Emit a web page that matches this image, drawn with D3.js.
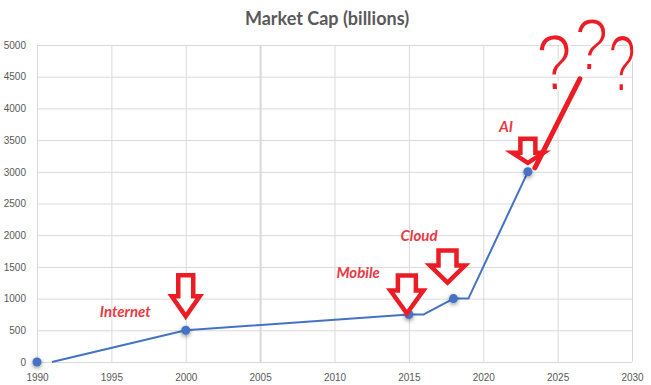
<!DOCTYPE html>
<html>
<head>
<meta charset="utf-8">
<script src="https://cdn.jsdelivr.net/npm/d3@7"></script>
<style>
  html, body { margin: 0; padding: 0; background: #fff; }
  svg { display: block; }
</style>
</head>
<body>
<svg id="chart" width="651" height="385"></svg>
<script>
// ---------- DATA ----------
const title = "Market Cap (billions)";
const xTicks = [1990, 1995, 2000, 2005, 2010, 2015, 2020, 2025, 2030];
const yTicks = [0, 500, 1000, 1500, 2000, 2500, 3000, 3500, 4000, 4500, 5000];
// trend line points
const lineYears  = [1991, 2000, 2015, 2016, 2018, 2019, 2023];
const lineValues = [0,    500,  750,  750,  1000, 1000, 3000];
// markers
const markerYears  = [1990, 2000, 2015, 2018, 2023];
const markerValues = [0,    500,  750,  1000, 3000];
// annotations
const milestoneLabels = ["Internet", "Mobile", "Cloud", "AI"];
const milestoneYears  = [2000, 2015, 2018, 2023];
const milestoneValues = [500, 750, 1000, 3000];
const questionMarks = ["?", "?", "?"];

// ---------- LAYOUT ----------
const svg = d3.select("#chart");
const pLeft = 37, pRight = 632, pTop = 45, pBottom = 362;
const x = d3.scaleLinear().domain([1990, 2030]).range([pLeft, pRight]);
const y = d3.scaleLinear().domain([0, 5000]).range([pBottom, pTop]);

const gridColor = "#d9d9d9";
const textColor = "#595959";
const blue = "#4472c4";
const arrowRed = "#ec1c24";
const labelRed = "#e83a46";

const defs = svg.append("defs");
const f = defs.append("filter").attr("id", "shadow")
  .attr("x", "-100%").attr("y", "-100%").attr("width", "300%").attr("height", "300%");
f.append("feDropShadow").attr("dx", 0).attr("dy", 1.5).attr("stdDeviation", 2)
  .attr("flood-color", "#000").attr("flood-opacity", 0.45);

// title
svg.append("text")
  .attr("x", 327).attr("y", 25)
  .attr("text-anchor", "middle")
  .attr("font-family", "Lato, 'Open Sans', sans-serif")
  .attr("font-weight", "bold")
  .attr("font-size", 18)
  .attr("fill", textColor)
  .text(title);

// y axis with horizontal gridlines
const yAxis = d3.axisLeft(y).tickValues(yTicks).tickSize(-(pRight - pLeft)).tickPadding(11)
  .tickFormat(d3.format("d"));
const gy = svg.append("g").attr("transform", `translate(${pLeft},0)`).call(yAxis);
gy.select(".domain").remove();
gy.selectAll(".tick line").attr("stroke", gridColor).attr("stroke-width", 1);
gy.selectAll(".tick text")
  .attr("fill", textColor)
  .attr("font-family", "'Liberation Sans', Arial, sans-serif")
  .attr("font-size", 10);

// x axis with vertical gridlines
const xAxis = d3.axisBottom(x).tickValues(xTicks).tickSize(-(pBottom - pTop)).tickPadding(12)
  .tickFormat(d3.format("d"));
const gx = svg.append("g").attr("transform", `translate(0,${pBottom})`).call(xAxis);
gx.select(".domain").remove();
gx.selectAll(".tick line").attr("stroke", gridColor)
  .attr("stroke-width", d => d === 2005 ? 2 : 1);
gx.selectAll(".tick text")
  .attr("fill", textColor)
  .attr("font-family", "'Liberation Sans', Arial, sans-serif")
  .attr("font-size", 10);

// line
const linePts = lineYears.map((yr, i) => [yr, lineValues[i]]);
svg.append("path")
  .datum(linePts)
  .attr("fill", "none")
  .attr("stroke", blue)
  .attr("stroke-width", 2)
  .attr("stroke-linejoin", "round")
  .attr("d", d3.line().x(d => x(d[0])).y(d => y(d[1])));

// markers
svg.append("g").selectAll("circle")
  .data(markerYears.map((yr, i) => [yr, markerValues[i]]))
  .join("circle")
  .attr("cx", d => x(d[0]))
  .attr("cy", d => y(d[1]))
  .attr("r", 4.5)
  .attr("fill", blue)
  .attr("filter", "url(#shadow)");

// arrows & labels (offsets relative to each milestone point)
const arrowGeom = [
  { dx: 0,  dy: -14, h: 41, head: 20, hw: 14,   sw: 7.5 },
  { dx: -2, dy: -1,  h: 38, head: 23, hw: 16.5, sw: 9 },
  { dx: -6, dy: -16, h: 32, head: 17, hw: 17.5, sw: 9 },
  { dx: 0,  dy: -9,  h: 24, head: 10, hw: 15.5, sw: 7.5 }
];
const labelOff = [
  { dx: -35, dy: -13 },
  { dx: -29, dy: -36 },
  { dx: -16, dy: -58 },
  { dx: -15, dy: -40 }
];

function arrowPath(tx, ty, g) {
  const topY = ty - g.h, headY = ty - g.head;
  return `M${tx - g.sw},${topY} L${tx + g.sw},${topY} L${tx + g.sw},${headY} L${tx + g.hw},${headY}` +
         ` L${tx},${ty} L${tx - g.hw},${headY} L${tx - g.sw},${headY} Z`;
}

const ann = svg.append("g");
milestoneLabels.forEach((lab, i) => {
  const px = x(milestoneYears[i]), py = y(milestoneValues[i]);
  const g = arrowGeom[i];
  ann.append("path")
    .attr("d", arrowPath(px + g.dx, py + g.dy, g))
    .attr("fill", "#fff")
    .attr("stroke", arrowRed)
    .attr("stroke-width", 4.5)
    .attr("stroke-linejoin", "miter");
  ann.append("text")
    .attr("x", px + labelOff[i].dx)
    .attr("y", py + labelOff[i].dy)
    .attr("text-anchor", "end")
    .attr("font-family", "Lato, 'Open Sans', sans-serif")
    .attr("font-style", "italic")
    .attr("font-weight", "bold")
    .attr("font-size", 15)
    .attr("fill", labelRed)
    .text(lab);
});

// hand-drawn stroke from AI arrow up to the question marks
const aiX = x(2023), aiY = y(3000);
ann.append("path")
  .attr("d", `M${aiX + 7},${aiY - 4} L${aiX + 52},${aiY - 93}`)
  .attr("stroke", arrowRed)
  .attr("stroke-width", 5)
  .attr("stroke-linecap", "round")
  .attr("fill", "none");

// question marks
const qPos = [
  { x: 556, y: 90, s: 80, sx: 0.8,  r: -3 },
  { x: 590, y: 70, s: 74, sx: 0.82, r: 2 },
  { x: 622, y: 91, s: 80, sx: 0.62, r: 0 }
];
questionMarks.forEach((q, i) => {
  const p = qPos[i];
  ann.append("text")
    .attr("transform", `translate(${p.x},${p.y}) rotate(${p.r}) scale(${p.sx},1)`)
    .attr("text-anchor", "middle")
    .attr("font-family", "'Liberation Sans', Arial, sans-serif")
    .attr("font-weight", "normal")
    .attr("font-size", p.s)
    .attr("fill", arrowRed)
    .attr("stroke", "#fff")
    .attr("stroke-width", 2.2)
    .text(q);
});
</script>
</body>
</html>
